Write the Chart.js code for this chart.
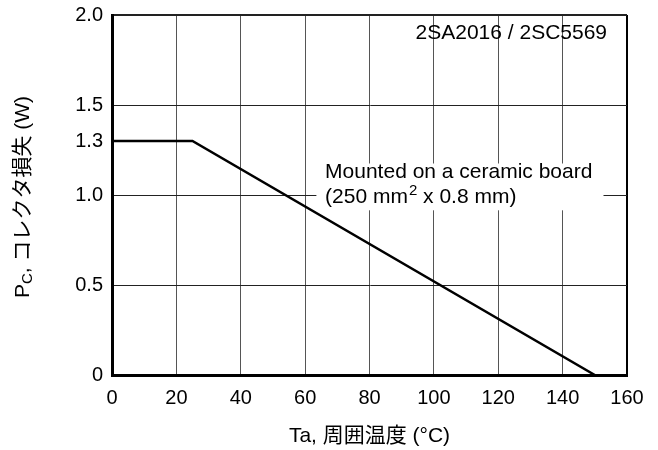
<!DOCTYPE html>
<html>
<head>
<meta charset="utf-8">
<script src="https://cdn.jsdelivr.net/npm/chart.js@4.4.1/dist/chart.umd.min.js"></script>
<style>
  html, body { margin: 0; padding: 0; background: #fff; }
  #wrap { width: 658px; height: 450px; }
</style>
</head>
<body>
<div id="wrap"><canvas id="pcChart"></canvas></div>
<script>
// Pc derating curve, 2SA2016 / 2SC5569
const tempC = [0, 25, 150];
const powerW = [1.3, 1.3, 0];
const xTicks = [0, 20, 40, 60, 80, 100, 120, 140, 160];
const yTicks = [0, 0.5, 1.0, 1.3, 1.5, 2.0];
const yTickLabels = ['0', '0.5', '1.0', '1.3', '1.5', '2.0'];

const FONT = '"Liberation Sans", Arial, "Noto Sans CJK JP", sans-serif';

// titles + annotations drawn on the canvas so we can do sub/superscripts
const textPlugin = {
    id: 'pcText',
    beforeDatasetsDraw(chart) {
        const { ctx, scales: { x, y } } = chart;
        // white box behind the board note (covers the grid)
        const x0 = x.getPixelForValue(63.5), x1 = x.getPixelForValue(152.7);
        const y0 = y.getPixelForValue(1.175), y1 = y.getPixelForValue(0.915);
        ctx.save();
        ctx.fillStyle = '#fff';
        ctx.fillRect(x0, y0, x1 - x0, y1 - y0);
        ctx.restore();
    },
    afterDraw(chart) {
        const { ctx, chartArea, scales: { x, y } } = chart;
        ctx.save();
        ctx.fillStyle = '#000';
        ctx.textBaseline = 'middle';

        // part number
        ctx.font = '21px ' + FONT;
        ctx.textAlign = 'right';
        ctx.fillText('2SA2016 / 2SC5569', x.getPixelForValue(153.8), y.getPixelForValue(1.9));

        // board note
        ctx.textAlign = 'left';
        const nx = x.getPixelForValue(66.2);
        ctx.fillText('Mounted on a ceramic board', nx, y.getPixelForValue(1.125));
        let ly = y.getPixelForValue(0.99);
        let cx = nx;
        ctx.fillText('(250 mm', cx, ly);
        cx += ctx.measureText('(250 mm').width;
        ctx.font = '15px ' + FONT;
        ctx.fillText('2', cx + 1, ly - 6);
        cx += ctx.measureText('2').width + 1;
        ctx.font = '21px ' + FONT;
        ctx.fillText(' x 0.8 mm)', cx, ly);

        // x title
        ctx.font = '21px ' + FONT;
        ctx.textAlign = 'center';
        ctx.fillText('Ta, 周囲温度 (°C)', (chartArea.left + chartArea.right) / 2, 436);

        // y title, rotated, with subscript C
        const midY = (chartArea.top + chartArea.bottom) / 2;
        ctx.translate(23, midY + 2);
        ctx.rotate(-Math.PI / 2);
        const partA = 'P', partSub = 'C', partB = ', コレクタ損失 (W)';
        ctx.font = '21px ' + FONT;
        const wA = ctx.measureText(partA).width;
        const wB = ctx.measureText(partB).width;
        ctx.font = '15px ' + FONT;
        const wS = ctx.measureText(partSub).width;
        let px = -(wA + wS + wB) / 2;
        ctx.textAlign = 'left';
        ctx.font = '21px ' + FONT;
        ctx.fillText(partA, px, 0);
        px += wA;
        ctx.font = '15px ' + FONT;
        ctx.fillText(partSub, px, 5);
        px += wS;
        ctx.font = '21px ' + FONT;
        ctx.fillText(partB, px, 0);
        ctx.restore();
    }
};

new Chart(document.getElementById('pcChart'), {
    type: 'scatter',
    data: {
        datasets: [{
            data: tempC.map((t, i) => ({ x: t, y: powerW[i] })),
            showLine: true,
            borderColor: '#000',
            borderWidth: 2.5,
            pointRadius: 0,
            tension: 0
        }]
    },
    options: {
        responsive: true,
        maintainAspectRatio: false,
        animation: false,
        layout: { padding: { top: 15, right: 31, left: 0, bottom: 0 } },
        plugins: {
            legend: { display: false },
            tooltip: { enabled: false }
        },
        scales: {
            x: {
                type: 'linear',
                min: 0,
                max: 160,
                afterBuildTicks: (s) => { s.ticks = xTicks.map(v => ({ value: v })); },
                afterFit: (s) => { s.height = 75; s.paddingLeft = 0; s.paddingRight = 0; },
                grid: {
                    drawTicks: false,
                    color: (c) => c.tick && c.tick.value === 160 ? '#000' : '#555',
                    lineWidth: (c) => c.tick && c.tick.value === 160 ? 2 : 1
                },
                border: { display: true, color: '#000', width: 3 },
                ticks: {
                    color: '#000',
                    padding: 11,
                    maxRotation: 0,
                    font: { family: FONT, size: 20 },
                    callback: (v) => String(v)
                }
            },
            y: {
                type: 'linear',
                min: 0,
                max: 2.0,
                afterBuildTicks: (s) => { s.ticks = yTicks.map(v => ({ value: v })); },
                afterFit: (s) => { s.width = 112; s.paddingTop = 0; s.paddingBottom = 0; },
                grid: {
                    drawTicks: false,
                    color: (c) => {
                        if (!c.tick) return '#000';
                        return c.tick.value === 1.3 ? 'rgba(0,0,0,0)' : '#222';
                    },
                    lineWidth: (c) => c.tick && c.tick.value === 2.0 ? 2 : 1
                },
                border: { display: true, color: '#000', width: 3 },
                ticks: {
                    color: '#000',
                    padding: 9,
                    font: { family: FONT, size: 20 },
                    callback: (v, i) => yTickLabels[i]
                }
            }
        }
    },
    plugins: [textPlugin]
});
</script>
</body>
</html>
